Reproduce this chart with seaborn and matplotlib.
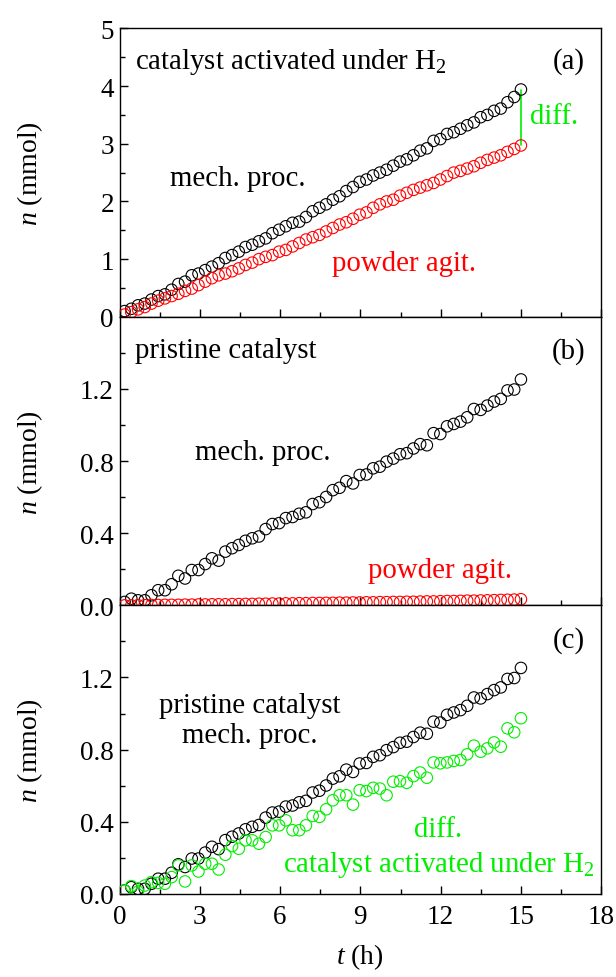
import numpy as np
import pandas as pd
import matplotlib
matplotlib.use("Agg")
import matplotlib.pyplot as plt
from matplotlib.ticker import MultipleLocator, FixedLocator
import seaborn as sns

sns.set_theme(style="ticks")
plt.rcParams['font.family'] = ['Liberation Serif', 'DejaVu Serif']
plt.rcParams['mathtext.fontset'] = 'custom'
plt.rcParams['mathtext.rm'] = 'Liberation Serif'
plt.rcParams['mathtext.it'] = 'Liberation Serif:italic'
for key in ['text.color', 'axes.labelcolor', 'xtick.color', 'ytick.color',
            'xtick.labelcolor', 'ytick.labelcolor', 'axes.edgecolor']:
    plt.rcParams[key] = 'black'

# time grid (h), 60 samples
t = np.linspace(0.19, 15.0, 60)

# (a) catalyst activated under H2
a_mech = [0.10, 0.14, 0.20, 0.23, 0.30, 0.36, 0.39, 0.47, 0.57, 0.61,
          0.72, 0.75, 0.81, 0.87, 0.93, 1.02, 1.07, 1.13, 1.21, 1.25,
          1.31, 1.36, 1.45, 1.51, 1.57, 1.63, 1.65, 1.73, 1.83, 1.89,
          1.95, 2.03, 2.09, 2.18, 2.25, 2.34, 2.38, 2.45, 2.50, 2.55,
          2.62, 2.69, 2.73, 2.80, 2.88, 2.92, 3.05, 3.08, 3.17, 3.20,
          3.26, 3.32, 3.37, 3.46, 3.50, 3.57, 3.61, 3.72, 3.81, 3.94]
a_powder = [0.04, 0.08, 0.13, 0.17, 0.23, 0.28, 0.32, 0.36, 0.40, 0.45,
            0.49, 0.55, 0.61, 0.67, 0.72, 0.75, 0.79, 0.84, 0.90, 0.94,
            1.00, 1.04, 1.07, 1.13, 1.16, 1.22, 1.28, 1.34, 1.38, 1.42,
            1.48, 1.54, 1.60, 1.64, 1.70, 1.77, 1.81, 1.89, 1.95, 2.00,
            2.03, 2.10, 2.15, 2.20, 2.24, 2.28, 2.32, 2.38, 2.44, 2.50,
            2.53, 2.57, 2.61, 2.67, 2.72, 2.76, 2.80, 2.86, 2.91, 2.97]

# (b) pristine catalyst
b_mech = [0.019, 0.037, 0.028, 0.028, 0.056, 0.084, 0.084, 0.117, 0.164, 0.149,
          0.196, 0.196, 0.229, 0.261, 0.248, 0.298, 0.317, 0.335, 0.358, 0.372,
          0.382, 0.423, 0.451, 0.456, 0.484, 0.490, 0.508, 0.516, 0.562, 0.572,
          0.601, 0.639, 0.652, 0.689, 0.676, 0.723, 0.726, 0.760, 0.769, 0.797,
          0.814, 0.838, 0.844, 0.870, 0.894, 0.888, 0.955, 0.950, 0.993, 1.006,
          1.019, 1.043, 1.089, 1.084, 1.108, 1.130, 1.145, 1.192, 1.197, 1.253]
b_powder = [0.000, 0.000, 0.001, 0.001, 0.002, 0.002, 0.003, 0.003, 0.003, 0.004,
            0.004, 0.005, 0.005, 0.006, 0.006, 0.006, 0.007, 0.007, 0.008, 0.008,
            0.009, 0.009, 0.010, 0.010, 0.011, 0.011, 0.012, 0.012, 0.013, 0.013,
            0.014, 0.014, 0.015, 0.015, 0.016, 0.016, 0.017, 0.017, 0.018, 0.018,
            0.019, 0.019, 0.020, 0.020, 0.021, 0.022, 0.022, 0.023, 0.024, 0.024,
            0.025, 0.026, 0.026, 0.027, 0.028, 0.029, 0.030, 0.031, 0.032, 0.034]

# (c) diff. catalyst activated under H2
c_diff = [0.019, 0.043, 0.013, 0.046, 0.065, 0.061, 0.056, 0.093, 0.158, 0.069,
          0.158, 0.124, 0.167, 0.167, 0.135, 0.217, 0.265, 0.250, 0.297, 0.297,
          0.278, 0.315, 0.380, 0.380, 0.408, 0.353, 0.353, 0.380, 0.432, 0.427,
          0.469, 0.519, 0.547, 0.547, 0.495, 0.575, 0.570, 0.588, 0.584, 0.547,
          0.622, 0.625, 0.616, 0.653, 0.673, 0.644, 0.729, 0.724, 0.729, 0.737,
          0.742, 0.774, 0.822, 0.788, 0.807, 0.840, 0.816, 0.918, 0.896, 0.974]

BLACK = '#000000'
RED = '#ff0000'
GREEN = '#00ee00'
FS = 20.8      # annotations
FT = 19.5      # tick labels / axis labels

fig = plt.figure(figsize=(6.16, 9.78), dpi=100)
gs = fig.add_gridspec(3, 1, left=0.194, right=0.976, bottom=0.085, top=0.970, hspace=0)
axes = [fig.add_subplot(gs[i]) for i in range(3)]

def scat(ax, y, color):
    df = pd.DataFrame({'t': t, 'n': y})
    sns.scatterplot(data=df, x='t', y='n', ax=ax, marker='o', s=68,
                    facecolor='none', edgecolor=color, linewidth=0.8,
                    legend=False, zorder=3)

ax = axes[0]
scat(ax, a_mech, BLACK)
scat(ax, a_powder, RED)
ax.plot([t[-1], t[-1]], [a_powder[-1], a_mech[-1]], color=GREEN, lw=1.2, zorder=2)
ax.set_ylim(0, 5)
ax.yaxis.set_major_locator(MultipleLocator(1))
ax.yaxis.set_minor_locator(MultipleLocator(0.5))
ax.text(0.59, 4.44, r'catalyst activated under H$_2$', fontsize=FS, va='center', ha='left')
ax.text(17.4, 4.44, '(a)', fontsize=FS, va='center', ha='right')
ax.text(1.9, 2.41, 'mech. proc.', fontsize=FS, va='center', ha='left')
ax.text(7.94, 0.93, 'powder agit.', fontsize=FS, va='center', ha='left', color=RED)
ax.text(15.35, 3.48, 'diff.', fontsize=FS, va='center', ha='left', color=GREEN)

ax = axes[1]
scat(ax, b_mech, BLACK)
scat(ax, b_powder, RED)
ax.set_ylim(0, 1.6)
ax.yaxis.set_major_locator(FixedLocator([0.0, 0.4, 0.8, 1.2]))
ax.yaxis.set_minor_locator(FixedLocator([0.2, 0.6, 1.0, 1.4]))
ax.text(0.59, 1.415, 'pristine catalyst', fontsize=FS, va='center', ha='left')
ax.text(17.4, 1.415, '(b)', fontsize=FS, va='center', ha='right')
ax.text(2.83, 0.85, 'mech. proc.', fontsize=FS, va='center', ha='left')
ax.text(9.28, 0.195, 'powder agit.', fontsize=FS, va='center', ha='left', color=RED)

ax = axes[2]
scat(ax, b_mech, BLACK)
scat(ax, c_diff, GREEN)
ax.set_ylim(0, 1.6)
ax.yaxis.set_major_locator(FixedLocator([0.0, 0.4, 0.8, 1.2]))
ax.yaxis.set_minor_locator(FixedLocator([0.2, 0.6, 1.0, 1.4]))
ax.text(17.4, 1.41, '(c)', fontsize=FS, va='center', ha='right')
ax.text(4.87, 1.048, 'pristine catalyst', fontsize=FS, va='center', ha='center')
ax.text(4.87, 0.881, 'mech. proc.', fontsize=FS, va='center', ha='center')
ax.text(11.9, 0.36, 'diff.', fontsize=FS, va='center', ha='center', color=GREEN)
ax.text(11.94, 0.167, r'catalyst activated under H$_2$', fontsize=FS, va='center',
        ha='center', color=GREEN)

for i, ax in enumerate(axes):
    ax.set_xlim(0, 18)
    ax.xaxis.set_major_locator(MultipleLocator(3))
    ax.xaxis.set_minor_locator(MultipleLocator(1.5))
    ax.tick_params(which='both', direction='in', top=False, right=False,
                   labelsize=FT, color='black', labelcolor='black')
    ax.tick_params(axis='y', pad=4)
    ax.tick_params(axis='x', pad=7)
    ax.tick_params(which='major', length=6, width=1.0)
    ax.tick_params(which='minor', length=3.5, width=1.0)
    ax.yaxis.set_major_formatter(plt.FuncFormatter(
        (lambda v, p: f'{v:.0f}') if i == 0 else (lambda v, p: f'{v:.1f}')))
    for sp in ax.spines.values():
        sp.set_color('black')
        sp.set_linewidth(1.0)
    ax.set_ylabel(r'$n$ (mmol)', fontsize=FT + 0.5, color='black')
    ax.yaxis.set_label_coords(-0.155, 0.5)
    if i < 2:
        ax.tick_params(axis='x', labelbottom=False)
        ax.set_xlabel('')
    else:
        ax.set_xlabel(r'$t$ (h)', fontsize=FT + 0.5, labelpad=9, color='black')

fig.savefig('out.png', dpi=100)
